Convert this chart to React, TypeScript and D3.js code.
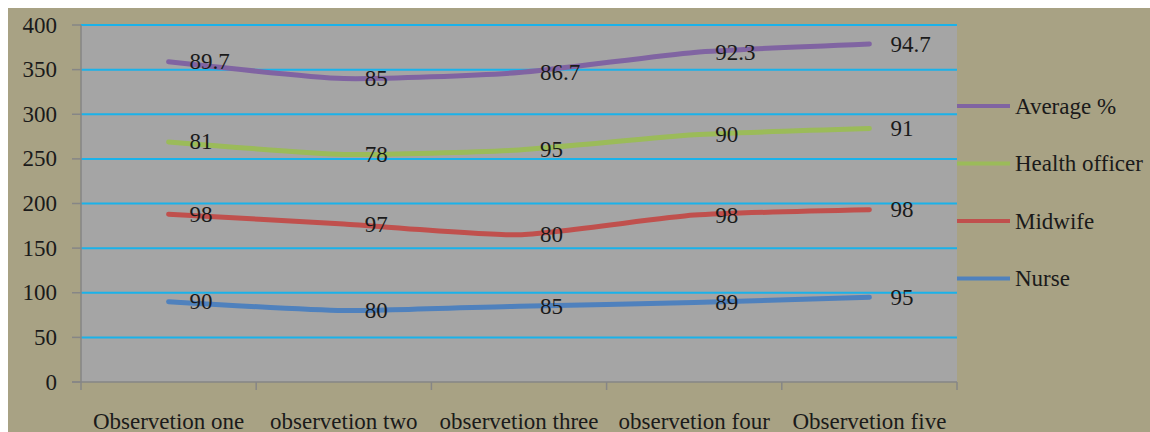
import React from "react";
import * as d3 from "d3";

const categories = ["Observetion one", "observetion two", "observetion three", "observetion four", "Observetion five"];
const nurse = [90, 80, 85, 89, 95];
const midwife = [98, 97, 80, 98, 98];
const healthOfficer = [81, 78, 95, 90, 91];
const averagePct = [89.7, 85, 86.7, 92.3, 94.7];
const seriesNames = ["Nurse", "Midwife", "Health officer", "Average %"];
const seriesColors = ["#4F81BD", "#C0504D", "#9BBB59", "#8064A2"];
const yTicks = [0, 50, 100, 150, 200, 250, 300, 350, 400];

const W = 1150;
const H = 432;
const FONT = '"Times New Roman", "Liberation Serif", Tinos, "DejaVu Serif", "Noto Serif", serif';
const txtStyle: React.CSSProperties = { fontFamily: FONT, fontSize: 23 };

export default function App() {
  const seriesValues = [nurse, midwife, healthOfficer, averagePct];
  const rows = categories.map((c, i) => {
    const r: any = { cat: c };
    seriesNames.forEach((n, k) => (r[n] = seriesValues[k][i]));
    return r;
  });
  const stacked = d3.stack<any>().keys(seriesNames)(rows);

  const x = d3.scaleBand<string>().domain(categories).range([81, 957]).padding(0);
  const y = d3.scaleLinear().domain([0, 400]).range([382, 25]);
  const cx = (c: string) => (x(c) as number) + x.bandwidth() / 2;

  const line = d3
    .line<any>()
    .x((d) => cx(d.data.cat))
    .y((d) => y(d[1]))
    .curve(d3.curveCardinal.tension(0.45));

  const tickXs = [...categories.map((c) => x(c) as number), 957];
  const legendOrder = [3, 2, 1, 0];

  return (
    <svg
      width={W}
      height={H}
      style={{ display: "block", position: "fixed", left: 0, top: 0 }}
    >
      <rect x={0} y={0} width={W} height={H} fill="#ffffff" />
      <rect x={8} y={8} width={W - 8} height={H - 8} fill="#A8A284" />
      <rect x={81} y={25} width={876} height={357} fill="#A5A5A5" />
      {yTicks.filter((t) => t > 0).map((t) => (
        <line key={t} x1={81} x2={957} y1={y(t)} y2={y(t)} stroke="#1AB2EA" strokeWidth={2} />
      ))}
      <line x1={81} x2={81} y1={25} y2={382} stroke="#868686" strokeWidth={1.5} />
      <line x1={72} x2={957} y1={382} y2={382} stroke="#868686" strokeWidth={1.5} />
      {yTicks.map((t) => (
        <line key={"yt" + t} x1={72} x2={81} y1={y(t)} y2={y(t)} stroke="#868686" strokeWidth={1.5} />
      ))}
      {tickXs.map((tx, i) => (
        <line key={"xt" + i} x1={tx} x2={tx} y1={382} y2={390} stroke="#868686" strokeWidth={1.5} />
      ))}
      {yTicks.map((t) => (
        <text key={"yl" + t} x={57} y={y(t)} textAnchor="end" dominantBaseline="central" style={txtStyle} fill="#1a1a1a">
          {t}
        </text>
      ))}
      {categories.map((c) => (
        <text key={c} x={cx(c)} y={421} textAnchor="middle" dominantBaseline="central" style={txtStyle} fill="#1a1a1a">
          {c}
        </text>
      ))}
      {stacked.map((s, k) => (
        <path key={s.key} d={line(s as any) as string} fill="none" stroke={seriesColors[k]} strokeWidth={5} strokeLinecap="round" />
      ))}
      {stacked.map((s, k) =>
        s.map((d: any, i: number) => (
          <text
            key={s.key + i}
            x={cx(d.data.cat) + 21}
            y={y(d[1])}
            dominantBaseline="central"
            style={txtStyle}
            fill="#1a1a1a"
          >
            {seriesValues[k][i]}
          </text>
        ))
      )}
      {legendOrder.map((k, j) => {
        const ly = 106 + j * 57.5;
        return (
          <g key={"lg" + k}>
            <line x1={957} x2={1010} y1={ly} y2={ly} stroke={seriesColors[k]} strokeWidth={4} />
            <text x={1015} y={ly} dominantBaseline="central" style={txtStyle} fill="#1a1a1a">
              {seriesNames[k]}
            </text>
          </g>
        );
      })}
    </svg>
  );
}
